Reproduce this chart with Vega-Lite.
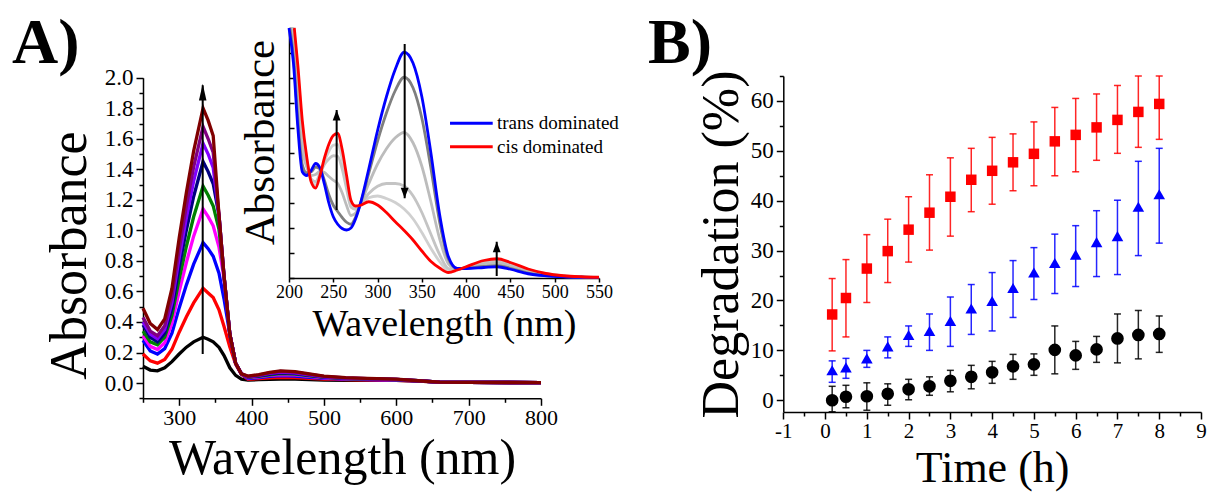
{
  "$schema": "https://vega.github.io/schema/vega-lite/v6.json",
  "width": 1209,
  "height": 493,
  "autosize": "none",
  "padding": 0,
  "background": "white",
  "config": {
    "view": {"stroke": null},
    "font": "Liberation Serif",
    "axis": {
      "grid": false,
      "domainColor": "black",
      "tickColor": "black",
      "labelColor": "black",
      "titleColor": "black",
      "labelFont": "Liberation Serif",
      "titleFont": "Liberation Serif",
      "titleFontWeight": "normal",
      "domainWidth": 1.5,
      "tickWidth": 1.5,
      "labelFlush": false,
      "labelOverlap": false
    }
  },
  "datasets": {
    "spec": [
      {"c":"k","nm":250,"a":0.11},{"c":"k","nm":260,"a":0.085},{"c":"k","nm":270,"a":0.08},{"c":"k","nm":280,"a":0.10},{"c":"k","nm":290,"a":0.14},{"c":"k","nm":300,"a":0.19},{"c":"k","nm":310,"a":0.235},{"c":"k","nm":320,"a":0.27},{"c":"k","nm":333,"a":0.30},{"c":"k","nm":340,"a":0.287},{"c":"k","nm":347,"a":0.27},{"c":"k","nm":355,"a":0.234},{"c":"k","nm":362,"a":0.18},{"c":"k","nm":370,"a":0.10},{"c":"k","nm":378,"a":0.05},{"c":"k","nm":386,"a":0.025},{"c":"k","nm":395,"a":0.020},{"c":"k","nm":410,"a":0.022},{"c":"k","nm":425,"a":0.024},{"c":"k","nm":440,"a":0.026},{"c":"k","nm":460,"a":0.025},{"c":"k","nm":480,"a":0.023},{"c":"k","nm":500,"a":0.020},{"c":"k","nm":530,"a":0.018},{"c":"k","nm":560,"a":0.018},{"c":"k","nm":600,"a":0.017},{"c":"k","nm":630,"a":0.012},{"c":"k","nm":660,"a":0.006},{"c":"k","nm":700,"a":0.004},{"c":"k","nm":800,"a":0.003},
      {"c":"r","nm":250,"a":0.19},{"c":"r","nm":260,"a":0.145},{"c":"r","nm":270,"a":0.13},{"c":"r","nm":280,"a":0.154},{"c":"r","nm":290,"a":0.221},{"c":"r","nm":300,"a":0.333},{"c":"r","nm":310,"a":0.434},{"c":"r","nm":320,"a":0.525},{"c":"r","nm":333,"a":0.62},{"c":"r","nm":340,"a":0.59},{"c":"r","nm":347,"a":0.56},{"c":"r","nm":355,"a":0.48},{"c":"r","nm":362,"a":0.37},{"c":"r","nm":370,"a":0.236},{"c":"r","nm":378,"a":0.124},{"c":"r","nm":386,"a":0.056},{"c":"r","nm":395,"a":0.025},{"c":"r","nm":410,"a":0.029},{"c":"r","nm":425,"a":0.034},{"c":"r","nm":440,"a":0.037},{"c":"r","nm":460,"a":0.036},{"c":"r","nm":480,"a":0.030},{"c":"r","nm":500,"a":0.025},{"c":"r","nm":530,"a":0.022},{"c":"r","nm":560,"a":0.020},{"c":"r","nm":600,"a":0.018},{"c":"r","nm":630,"a":0.013},{"c":"r","nm":660,"a":0.006},{"c":"r","nm":700,"a":0.004},{"c":"r","nm":800,"a":0.003},
      {"c":"b","nm":250,"a":0.28},{"c":"b","nm":260,"a":0.21},{"c":"b","nm":270,"a":0.19},{"c":"b","nm":280,"a":0.225},{"c":"b","nm":290,"a":0.326},{"c":"b","nm":300,"a":0.492},{"c":"b","nm":310,"a":0.643},{"c":"b","nm":320,"a":0.779},{"c":"b","nm":333,"a":0.92},{"c":"b","nm":340,"a":0.88},{"c":"b","nm":347,"a":0.83},{"c":"b","nm":355,"a":0.72},{"c":"b","nm":362,"a":0.55},{"c":"b","nm":370,"a":0.32},{"c":"b","nm":378,"a":0.13},{"c":"b","nm":386,"a":0.06},{"c":"b","nm":395,"a":0.030},{"c":"b","nm":410,"a":0.035},{"c":"b","nm":425,"a":0.043},{"c":"b","nm":440,"a":0.048},{"c":"b","nm":460,"a":0.046},{"c":"b","nm":480,"a":0.038},{"c":"b","nm":500,"a":0.030},{"c":"b","nm":530,"a":0.025},{"c":"b","nm":560,"a":0.023},{"c":"b","nm":600,"a":0.020},{"c":"b","nm":630,"a":0.014},{"c":"b","nm":660,"a":0.006},{"c":"b","nm":700,"a":0.004},{"c":"b","nm":800,"a":0.003},
      {"c":"m","nm":250,"a":0.31},{"c":"m","nm":260,"a":0.24},{"c":"m","nm":270,"a":0.22},{"c":"m","nm":280,"a":0.264},{"c":"m","nm":290,"a":0.391},{"c":"m","nm":300,"a":0.601},{"c":"m","nm":310,"a":0.791},{"c":"m","nm":320,"a":0.962},{"c":"m","nm":333,"a":1.14},{"c":"m","nm":340,"a":1.09},{"c":"m","nm":347,"a":1.03},{"c":"m","nm":355,"a":0.89},{"c":"m","nm":362,"a":0.684},{"c":"m","nm":370,"a":0.32},{"c":"m","nm":378,"a":0.13},{"c":"m","nm":386,"a":0.06},{"c":"m","nm":395,"a":0.034},{"c":"m","nm":410,"a":0.040},{"c":"m","nm":425,"a":0.050},{"c":"m","nm":440,"a":0.056},{"c":"m","nm":460,"a":0.053},{"c":"m","nm":480,"a":0.043},{"c":"m","nm":500,"a":0.034},{"c":"m","nm":530,"a":0.028},{"c":"m","nm":560,"a":0.024},{"c":"m","nm":600,"a":0.021},{"c":"m","nm":630,"a":0.014},{"c":"m","nm":660,"a":0.006},{"c":"m","nm":700,"a":0.004},{"c":"m","nm":800,"a":0.003},
      {"c":"g","nm":250,"a":0.34},{"c":"g","nm":260,"a":0.27},{"c":"g","nm":270,"a":0.25},{"c":"g","nm":280,"a":0.300},{"c":"g","nm":290,"a":0.443},{"c":"g","nm":300,"a":0.681},{"c":"g","nm":310,"a":0.896},{"c":"g","nm":320,"a":1.089},{"c":"g","nm":333,"a":1.29},{"c":"g","nm":340,"a":1.23},{"c":"g","nm":347,"a":1.16},{"c":"g","nm":355,"a":1.006},{"c":"g","nm":362,"a":0.70},{"c":"g","nm":370,"a":0.32},{"c":"g","nm":378,"a":0.13},{"c":"g","nm":386,"a":0.06},{"c":"g","nm":395,"a":0.037},{"c":"g","nm":410,"a":0.044},{"c":"g","nm":425,"a":0.054},{"c":"g","nm":440,"a":0.062},{"c":"g","nm":460,"a":0.058},{"c":"g","nm":480,"a":0.047},{"c":"g","nm":500,"a":0.037},{"c":"g","nm":530,"a":0.029},{"c":"g","nm":560,"a":0.026},{"c":"g","nm":600,"a":0.022},{"c":"g","nm":630,"a":0.015},{"c":"g","nm":660,"a":0.006},{"c":"g","nm":700,"a":0.004},{"c":"g","nm":800,"a":0.003},
      {"c":"n","nm":250,"a":0.38},{"c":"n","nm":260,"a":0.30},{"c":"n","nm":270,"a":0.27},{"c":"n","nm":280,"a":0.327},{"c":"n","nm":290,"a":0.489},{"c":"n","nm":300,"a":0.759},{"c":"n","nm":310,"a":1.003},{"c":"n","nm":320,"a":1.222},{"c":"n","nm":333,"a":1.45},{"c":"n","nm":340,"a":1.385},{"c":"n","nm":347,"a":1.305},{"c":"n","nm":355,"a":1.10},{"c":"n","nm":362,"a":0.70},{"c":"n","nm":370,"a":0.32},{"c":"n","nm":378,"a":0.13},{"c":"n","nm":386,"a":0.06},{"c":"n","nm":395,"a":0.039},{"c":"n","nm":410,"a":0.047},{"c":"n","nm":425,"a":0.059},{"c":"n","nm":440,"a":0.067},{"c":"n","nm":460,"a":0.063},{"c":"n","nm":480,"a":0.051},{"c":"n","nm":500,"a":0.039},{"c":"n","nm":530,"a":0.031},{"c":"n","nm":560,"a":0.027},{"c":"n","nm":600,"a":0.023},{"c":"n","nm":630,"a":0.015},{"c":"n","nm":660,"a":0.006},{"c":"n","nm":700,"a":0.004},{"c":"n","nm":800,"a":0.003},
      {"c":"v","nm":250,"a":0.40},{"c":"v","nm":260,"a":0.32},{"c":"v","nm":270,"a":0.29},{"c":"v","nm":280,"a":0.351},{"c":"v","nm":290,"a":0.528},{"c":"v","nm":300,"a":0.820},{"c":"v","nm":310,"a":1.085},{"c":"v","nm":320,"a":1.323},{"c":"v","nm":333,"a":1.57},{"c":"v","nm":340,"a":1.50},{"c":"v","nm":347,"a":1.41},{"c":"v","nm":355,"a":1.10},{"c":"v","nm":362,"a":0.70},{"c":"v","nm":370,"a":0.32},{"c":"v","nm":378,"a":0.13},{"c":"v","nm":386,"a":0.06},{"c":"v","nm":395,"a":0.041},{"c":"v","nm":410,"a":0.050},{"c":"v","nm":425,"a":0.063},{"c":"v","nm":440,"a":0.072},{"c":"v","nm":460,"a":0.067},{"c":"v","nm":480,"a":0.054},{"c":"v","nm":500,"a":0.041},{"c":"v","nm":530,"a":0.032},{"c":"v","nm":560,"a":0.028},{"c":"v","nm":600,"a":0.024},{"c":"v","nm":630,"a":0.015},{"c":"v","nm":660,"a":0.006},{"c":"v","nm":700,"a":0.004},{"c":"v","nm":800,"a":0.003},
      {"c":"p","nm":250,"a":0.43},{"c":"p","nm":260,"a":0.34},{"c":"p","nm":270,"a":0.31},{"c":"p","nm":280,"a":0.376},{"c":"p","nm":290,"a":0.565},{"c":"p","nm":300,"a":0.877},{"c":"p","nm":310,"a":1.161},{"c":"p","nm":320,"a":1.416},{"c":"p","nm":333,"a":1.68},{"c":"p","nm":340,"a":1.60},{"c":"p","nm":347,"a":1.51},{"c":"p","nm":355,"a":1.10},{"c":"p","nm":362,"a":0.70},{"c":"p","nm":370,"a":0.32},{"c":"p","nm":378,"a":0.13},{"c":"p","nm":386,"a":0.06},{"c":"p","nm":395,"a":0.043},{"c":"p","nm":410,"a":0.052},{"c":"p","nm":425,"a":0.066},{"c":"p","nm":440,"a":0.076},{"c":"p","nm":460,"a":0.071},{"c":"p","nm":480,"a":0.057},{"c":"p","nm":500,"a":0.043},{"c":"p","nm":530,"a":0.034},{"c":"p","nm":560,"a":0.029},{"c":"p","nm":600,"a":0.024},{"c":"p","nm":630,"a":0.015},{"c":"p","nm":660,"a":0.006},{"c":"p","nm":700,"a":0.004},{"c":"p","nm":800,"a":0.003},
      {"c":"w","nm":250,"a":0.49},{"c":"w","nm":260,"a":0.39},{"c":"w","nm":270,"a":0.35},{"c":"w","nm":280,"a":0.42},{"c":"w","nm":290,"a":0.62},{"c":"w","nm":300,"a":0.95},{"c":"w","nm":310,"a":1.25},{"c":"w","nm":320,"a":1.52},{"c":"w","nm":333,"a":1.80},{"c":"w","nm":340,"a":1.72},{"c":"w","nm":347,"a":1.62},{"c":"w","nm":355,"a":1.10},{"c":"w","nm":362,"a":0.70},{"c":"w","nm":370,"a":0.32},{"c":"w","nm":378,"a":0.13},{"c":"w","nm":386,"a":0.06},{"c":"w","nm":395,"a":0.045},{"c":"w","nm":410,"a":0.055},{"c":"w","nm":425,"a":0.070},{"c":"w","nm":440,"a":0.080},{"c":"w","nm":460,"a":0.075},{"c":"w","nm":480,"a":0.060},{"c":"w","nm":500,"a":0.045},{"c":"w","nm":530,"a":0.035},{"c":"w","nm":560,"a":0.030},{"c":"w","nm":600,"a":0.025},{"c":"w","nm":630,"a":0.015},{"c":"w","nm":660,"a":0.006},{"c":"w","nm":700,"a":0.004},{"c":"w","nm":800,"a":0.003}
    ],
    "inset": [
      {"k":"g4","nm":205.5,"v":10.0},{"k":"g4","nm":210,"v":8.2},{"k":"g4","nm":215,"v":6.05},{"k":"g4","nm":220,"v":4.76},{"k":"g4","nm":225,"v":3.90},{"k":"g4","nm":230,"v":3.72},{"k":"g4","nm":235,"v":4.14},{"k":"g4","nm":240,"v":4.67},{"k":"g4","nm":245,"v":5.07},{"k":"g4","nm":250,"v":5.31},{"k":"g4","nm":255,"v":5.34},{"k":"g4","nm":260,"v":4.77},{"k":"g4","nm":265,"v":3.84},{"k":"g4","nm":270,"v":2.97},{"k":"g4","nm":275,"v":2.82},{"k":"g4","nm":280,"v":2.9},{"k":"g4","nm":290,"v":3.21},{"k":"g4","nm":300,"v":3.28},{"k":"g4","nm":310,"v":3.18},{"k":"g4","nm":320,"v":3.02},{"k":"g4","nm":330,"v":2.76},{"k":"g4","nm":340,"v":2.37},{"k":"g4","nm":350,"v":1.82},{"k":"g4","nm":360,"v":1.20},{"k":"g4","nm":370,"v":0.66},{"k":"g4","nm":380,"v":0.30},{"k":"g4","nm":390,"v":0.33},{"k":"g4","nm":400,"v":0.44},{"k":"g4","nm":420,"v":0.67},{"k":"g4","nm":435,"v":0.73},{"k":"g4","nm":450,"v":0.59},{"k":"g4","nm":470,"v":0.34},{"k":"g4","nm":490,"v":0.17},{"k":"g4","nm":510,"v":0.085},{"k":"g4","nm":530,"v":0.048},{"k":"g4","nm":550,"v":0.029},
      {"k":"g3","nm":204.5,"v":10.0},{"k":"g3","nm":210,"v":7.88},{"k":"g3","nm":215,"v":5.79},{"k":"g3","nm":220,"v":4.66},{"k":"g3","nm":225,"v":3.96},{"k":"g3","nm":230,"v":3.85},{"k":"g3","nm":235,"v":4.18},{"k":"g3","nm":240,"v":4.54},{"k":"g3","nm":245,"v":4.76},{"k":"g3","nm":250,"v":4.89},{"k":"g3","nm":255,"v":4.87},{"k":"g3","nm":260,"v":4.36},{"k":"g3","nm":265,"v":3.56},{"k":"g3","nm":270,"v":2.83},{"k":"g3","nm":275,"v":2.75},{"k":"g3","nm":280,"v":2.9},{"k":"g3","nm":290,"v":3.38},{"k":"g3","nm":300,"v":3.67},{"k":"g3","nm":310,"v":3.78},{"k":"g3","nm":320,"v":3.78},{"k":"g3","nm":330,"v":3.68},{"k":"g3","nm":340,"v":3.29},{"k":"g3","nm":350,"v":2.62},{"k":"g3","nm":360,"v":1.77},{"k":"g3","nm":370,"v":0.94},{"k":"g3","nm":380,"v":0.38},{"k":"g3","nm":390,"v":0.34},{"k":"g3","nm":400,"v":0.43},{"k":"g3","nm":420,"v":0.63},{"k":"g3","nm":435,"v":0.69},{"k":"g3","nm":450,"v":0.55},{"k":"g3","nm":470,"v":0.31},{"k":"g3","nm":490,"v":0.16},{"k":"g3","nm":510,"v":0.08},{"k":"g3","nm":530,"v":0.045},{"k":"g3","nm":550,"v":0.028},
      {"k":"g2","nm":203,"v":10.0},{"k":"g2","nm":205,"v":9.41},{"k":"g2","nm":210,"v":7.13},{"k":"g2","nm":215,"v":5.17},{"k":"g2","nm":220,"v":4.44},{"k":"g2","nm":225,"v":4.10},{"k":"g2","nm":230,"v":4.14},{"k":"g2","nm":235,"v":4.27},{"k":"g2","nm":240,"v":4.22},{"k":"g2","nm":245,"v":4.06},{"k":"g2","nm":250,"v":3.91},{"k":"g2","nm":255,"v":3.78},{"k":"g2","nm":260,"v":3.41},{"k":"g2","nm":265,"v":2.90},{"k":"g2","nm":270,"v":2.50},{"k":"g2","nm":275,"v":2.59},{"k":"g2","nm":280,"v":2.9},{"k":"g2","nm":290,"v":3.77},{"k":"g2","nm":300,"v":4.56},{"k":"g2","nm":310,"v":5.17},{"k":"g2","nm":320,"v":5.61},{"k":"g2","nm":330,"v":5.82},{"k":"g2","nm":340,"v":5.41},{"k":"g2","nm":350,"v":4.47},{"k":"g2","nm":360,"v":3.08},{"k":"g2","nm":370,"v":1.58},{"k":"g2","nm":380,"v":0.57},{"k":"g2","nm":390,"v":0.35},{"k":"g2","nm":400,"v":0.41},{"k":"g2","nm":420,"v":0.55},{"k":"g2","nm":435,"v":0.59},{"k":"g2","nm":450,"v":0.47},{"k":"g2","nm":470,"v":0.26},{"k":"g2","nm":490,"v":0.13},{"k":"g2","nm":510,"v":0.068},{"k":"g2","nm":530,"v":0.039},{"k":"g2","nm":550,"v":0.025},
      {"k":"g1","nm":201,"v":10.0},{"k":"g1","nm":205,"v":8.85},{"k":"g1","nm":210,"v":6.35},{"k":"g1","nm":215,"v":4.54},{"k":"g1","nm":220,"v":4.21},{"k":"g1","nm":225,"v":4.24},{"k":"g1","nm":230,"v":4.44},{"k":"g1","nm":235,"v":4.36},{"k":"g1","nm":240,"v":3.90},{"k":"g1","nm":245,"v":3.33},{"k":"g1","nm":250,"v":2.91},{"k":"g1","nm":255,"v":2.66},{"k":"g1","nm":260,"v":2.42},{"k":"g1","nm":265,"v":2.23},{"k":"g1","nm":270,"v":2.15},{"k":"g1","nm":275,"v":2.42},{"k":"g1","nm":280,"v":2.9},{"k":"g1","nm":290,"v":4.17},{"k":"g1","nm":300,"v":5.48},{"k":"g1","nm":310,"v":6.60},{"k":"g1","nm":320,"v":7.50},{"k":"g1","nm":330,"v":8.03},{"k":"g1","nm":340,"v":7.61},{"k":"g1","nm":350,"v":6.39},{"k":"g1","nm":360,"v":4.44},{"k":"g1","nm":370,"v":2.25},{"k":"g1","nm":380,"v":0.76},{"k":"g1","nm":390,"v":0.37},{"k":"g1","nm":400,"v":0.39},{"k":"g1","nm":420,"v":0.46},{"k":"g1","nm":435,"v":0.49},{"k":"g1","nm":450,"v":0.39},{"k":"g1","nm":470,"v":0.20},{"k":"g1","nm":490,"v":0.10},{"k":"g1","nm":510,"v":0.056},{"k":"g1","nm":530,"v":0.033},{"k":"g1","nm":550,"v":0.021},
      {"k":"trans","nm":200,"v":10.0},{"k":"trans","nm":205,"v":8.6},{"k":"trans","nm":210,"v":6.0},{"k":"trans","nm":215,"v":4.25},{"k":"trans","nm":220,"v":4.1},{"k":"trans","nm":225,"v":4.3},{"k":"trans","nm":230,"v":4.58},{"k":"trans","nm":235,"v":4.4},{"k":"trans","nm":240,"v":3.75},{"k":"trans","nm":245,"v":3.0},{"k":"trans","nm":250,"v":2.45},{"k":"trans","nm":255,"v":2.15},{"k":"trans","nm":260,"v":1.98},{"k":"trans","nm":265,"v":1.92},{"k":"trans","nm":270,"v":2.0},{"k":"trans","nm":275,"v":2.35},{"k":"trans","nm":280,"v":2.9},{"k":"trans","nm":290,"v":4.35},{"k":"trans","nm":300,"v":5.9},{"k":"trans","nm":310,"v":7.25},{"k":"trans","nm":320,"v":8.35},{"k":"trans","nm":330,"v":9.03},{"k":"trans","nm":340,"v":8.6},{"k":"trans","nm":350,"v":7.25},{"k":"trans","nm":360,"v":5.05},{"k":"trans","nm":370,"v":2.55},{"k":"trans","nm":380,"v":0.85},{"k":"trans","nm":390,"v":0.38},{"k":"trans","nm":400,"v":0.38},{"k":"trans","nm":420,"v":0.42},{"k":"trans","nm":435,"v":0.45},{"k":"trans","nm":450,"v":0.35},{"k":"trans","nm":470,"v":0.17},{"k":"trans","nm":490,"v":0.09},{"k":"trans","nm":510,"v":0.05},{"k":"trans","nm":530,"v":0.03},{"k":"trans","nm":550,"v":0.02},
      {"k":"cis","nm":206,"v":10.0},{"k":"cis","nm":210,"v":8.5},{"k":"cis","nm":215,"v":6.3},{"k":"cis","nm":220,"v":4.85},{"k":"cis","nm":225,"v":3.85},{"k":"cis","nm":230,"v":3.6},{"k":"cis","nm":235,"v":4.1},{"k":"cis","nm":240,"v":4.8},{"k":"cis","nm":245,"v":5.35},{"k":"cis","nm":250,"v":5.7},{"k":"cis","nm":255,"v":5.78},{"k":"cis","nm":260,"v":5.15},{"k":"cis","nm":265,"v":4.1},{"k":"cis","nm":270,"v":3.1},{"k":"cis","nm":275,"v":2.88},{"k":"cis","nm":280,"v":2.9},{"k":"cis","nm":290,"v":3.05},{"k":"cis","nm":300,"v":2.92},{"k":"cis","nm":310,"v":2.62},{"k":"cis","nm":320,"v":2.25},{"k":"cis","nm":330,"v":1.9},{"k":"cis","nm":340,"v":1.52},{"k":"cis","nm":350,"v":1.08},{"k":"cis","nm":360,"v":0.67},{"k":"cis","nm":370,"v":0.4},{"k":"cis","nm":380,"v":0.22},{"k":"cis","nm":390,"v":0.32},{"k":"cis","nm":400,"v":0.45},{"k":"cis","nm":420,"v":0.7},{"k":"cis","nm":435,"v":0.77},{"k":"cis","nm":450,"v":0.62},{"k":"cis","nm":470,"v":0.36},{"k":"cis","nm":490,"v":0.18},{"k":"cis","nm":510,"v":0.09},{"k":"cis","nm":530,"v":0.05},{"k":"cis","nm":550,"v":0.03}
    ],
    "degr": [
      {"s":"red","t":0.17,"v":17.2,"lo":9.9,"hi":24.4},{"s":"red","t":0.5,"v":20.5,"lo":12.7,"hi":28.2},{"s":"red","t":1,"v":26.4,"lo":19.6,"hi":33.2},{"s":"red","t":1.5,"v":29.9,"lo":23.6,"hi":36.3},{"s":"red","t":2,"v":34.2,"lo":27.7,"hi":40.8},{"s":"red","t":2.5,"v":37.6,"lo":30.1,"hi":45.2},{"s":"red","t":3,"v":40.8,"lo":32.9,"hi":48.6},{"s":"red","t":3.5,"v":44.2,"lo":37.8,"hi":50.5},{"s":"red","t":4,"v":46.0,"lo":39.3,"hi":52.7},{"s":"red","t":4.5,"v":47.7,"lo":42.0,"hi":53.4},{"s":"red","t":5,"v":49.4,"lo":43.0,"hi":55.8},{"s":"red","t":5.5,"v":51.9,"lo":45.0,"hi":58.7},{"s":"red","t":6,"v":53.2,"lo":45.8,"hi":60.5},{"s":"red","t":6.5,"v":54.7,"lo":48.1,"hi":61.4},{"s":"red","t":7,"v":56.2,"lo":49.5,"hi":63.1},{"s":"red","t":7.5,"v":57.8,"lo":50.7,"hi":65.0},{"s":"red","t":8,"v":59.4,"lo":52.3,"hi":65.0},
      {"s":"blue","t":0.17,"v":6.0,"lo":3.6,"hi":7.9},{"s":"blue","t":0.5,"v":6.6,"lo":4.4,"hi":8.4},{"s":"blue","t":1,"v":8.4,"lo":6.6,"hi":10.0},{"s":"blue","t":1.5,"v":10.8,"lo":8.5,"hi":12.7},{"s":"blue","t":2,"v":13.1,"lo":10.8,"hi":14.9},{"s":"blue","t":2.5,"v":13.9,"lo":10.0,"hi":17.3},{"s":"blue","t":3,"v":15.9,"lo":10.8,"hi":20.7},{"s":"blue","t":3.5,"v":18.4,"lo":13.2,"hi":23.2},{"s":"blue","t":4,"v":19.9,"lo":13.9,"hi":25.6},{"s":"blue","t":4.5,"v":22.5,"lo":16.6,"hi":28.0},{"s":"blue","t":5,"v":25.6,"lo":20.2,"hi":30.6},{"s":"blue","t":5.5,"v":27.5,"lo":21.4,"hi":33.3},{"s":"blue","t":6,"v":29.2,"lo":22.8,"hi":35.0},{"s":"blue","t":6.5,"v":31.7,"lo":24.8,"hi":38.0},{"s":"blue","t":7,"v":32.9,"lo":25.2,"hi":40.1},{"s":"blue","t":7.5,"v":38.8,"lo":29.0,"hi":47.9},{"s":"blue","t":8,"v":41.3,"lo":31.5,"hi":50.5},
      {"s":"black","t":0.17,"v":0.0,"lo":-2.3,"hi":2.8},{"s":"black","t":0.5,"v":0.7,"lo":-1.5,"hi":3.0},{"s":"black","t":1,"v":0.8,"lo":-2.0,"hi":3.5},{"s":"black","t":1.5,"v":1.3,"lo":-1.0,"hi":3.3},{"s":"black","t":2,"v":2.2,"lo":0.1,"hi":4.2},{"s":"black","t":2.5,"v":2.8,"lo":1.0,"hi":4.7},{"s":"black","t":3,"v":3.9,"lo":1.7,"hi":6.0},{"s":"black","t":3.5,"v":4.7,"lo":2.3,"hi":7.0},{"s":"black","t":4,"v":5.6,"lo":3.4,"hi":7.8},{"s":"black","t":4.5,"v":6.8,"lo":4.2,"hi":9.2},{"s":"black","t":5,"v":7.2,"lo":5.0,"hi":9.3},{"s":"black","t":5.5,"v":10.1,"lo":5.3,"hi":14.9},{"s":"black","t":6,"v":9.0,"lo":6.2,"hi":11.8},{"s":"black","t":6.5,"v":10.2,"lo":7.6,"hi":12.8},{"s":"black","t":7,"v":12.4,"lo":7.5,"hi":17.3},{"s":"black","t":7.5,"v":13.1,"lo":8.3,"hi":18.0},{"s":"black","t":8,"v":13.3,"lo":9.6,"hi":16.9}
    ]
  },
  "layer": [
    {
      "data": {"values": [{"nm": 250, "a": 0}]},
      "mark": {"type": "point", "opacity": 0},
      "encoding": {
        "x": {"field": "nm", "type": "quantitative",
          "scale": {"domain": [250, 800], "range": [143, 541], "nice": false, "zero": false},
          "axis": {"orient": "bottom", "offset": -94.7, "title": null, "domain": false, "labels": false,
            "values": [250, 350, 450, 550, 650, 750], "tickSize": 4}},
        "y": {"field": "a", "type": "quantitative",
          "scale": {"domain": [-0.1, 2.0], "range": [398.3, 77.7], "nice": false, "zero": false},
          "axis": {"orient": "left", "offset": -143, "title": null, "domain": false, "labels": false,
            "values": [-0.1, 0.1, 0.3, 0.5, 0.7, 0.9, 1.1, 1.3, 1.5, 1.7, 1.9], "tickSize": 4}}
      }
    },
    {
      "data": {"name": "spec"},
      "mark": {"type": "line", "strokeWidth": 3.3},
      "encoding": {
        "x": {"field": "nm", "type": "quantitative",
          "scale": {"domain": [250, 800], "range": [143, 541], "nice": false, "zero": false},
          "axis": {"orient": "bottom", "offset": -94.7, "title": "Wavelength (nm)",
            "values": [300, 400, 500, 600, 700, 800],
            "tickSize": 7, "labelFontSize": 22, "labelPadding": 2, "titleFontSize": 50, "titlePadding": 5}},
        "y": {"field": "a", "type": "quantitative",
          "scale": {"domain": [-0.1, 2.0], "range": [398.3, 77.7], "nice": false, "zero": false},
          "axis": {"orient": "left", "offset": -143, "title": "Absorbance",
            "values": [0, 0.2, 0.4, 0.6, 0.8, 1.0, 1.2, 1.4, 1.6, 1.8, 2.0], "format": ".1f",
            "tickSize": 7, "labelFontSize": 23, "labelPadding": 3, "titleFontSize": 52, "titlePadding": 8, "titleY": 255}},
        "color": {"field": "c", "type": "nominal",
          "scale": {"domain": ["k", "r", "b", "m", "g", "n", "v", "p", "w"],
            "range": ["#000000", "#ff0000", "#0000ff", "#ff00ff", "#008000", "#000080", "#8000ff", "#800080", "#800000"]},
          "legend": null}
      }
    },
    {
      "data": {"values": [{"nm": 332.5, "a0": 0.19, "a1": 1.95}]},
      "mark": {"type": "rule", "strokeWidth": 2, "color": "black"},
      "encoding": {
        "x": {"field": "nm", "type": "quantitative", "axis": null,
          "scale": {"domain": [250, 800], "range": [143, 541], "nice": false, "zero": false}},
        "y": {"field": "a0", "type": "quantitative", "axis": null,
          "scale": {"domain": [-0.1, 2.0], "range": [398.3, 77.7], "nice": false, "zero": false}},
        "y2": {"field": "a1"}
      }
    },
    {
      "data": {"values": [{"nm": 332.5, "a1": 1.96}]},
      "mark": {"type": "point", "shape": "M0,0L0.45,2L-0.45,2Z", "filled": true, "size": 280, "color": "black", "opacity": 1},
      "encoding": {
        "x": {"field": "nm", "type": "quantitative", "axis": null,
          "scale": {"domain": [250, 800], "range": [143, 541], "nice": false, "zero": false}},
        "y": {"field": "a1", "type": "quantitative", "axis": null,
          "scale": {"domain": [-0.1, 2.0], "range": [398.3, 77.7], "nice": false, "zero": false}}
      }
    },
    {
      "data": {"values": [{"nm": 69, "a": 2.222, "txt": "A)"}]},
      "mark": {"type": "text", "align": "left", "baseline": "middle", "fontSize": 64, "fontWeight": "bold", "font": "Liberation Serif", "color": "black"},
      "encoding": {
        "x": {"field": "nm", "type": "quantitative", "axis": null,
          "scale": {"domain": [250, 800], "range": [143, 541], "nice": false, "zero": false}},
        "y": {"field": "a", "type": "quantitative", "axis": null,
          "scale": {"domain": [-0.1, 2.0], "range": [398.3, 77.7], "nice": false, "zero": false}},
        "text": {"field": "txt"}
      }
    },
    {
      "data": {"name": "inset"},
      "mark": {"type": "line", "strokeWidth": 2.8, "interpolate": "monotone"},
      "encoding": {
        "x": {"field": "nm", "type": "quantitative",
          "scale": {"domain": [200, 550], "range": [289, 599], "nice": false, "zero": false},
          "axis": {"orient": "bottom", "offset": -215, "title": "Wavelength (nm)",
            "values": [200, 250, 300, 350, 400, 450, 500, 550],
            "tickSize": 4, "labelFontSize": 18, "labelPadding": 1, "titleFontSize": 38, "titlePadding": 4}},
        "y": {"field": "v", "type": "quantitative",
          "scale": {"domain": [0, 10], "range": [278, 28], "nice": false, "zero": false},
          "axis": {"orient": "left", "offset": -289, "title": "Absorbance",
            "values": [0, 1, 2, 3, 4, 5, 6, 7, 8, 9, 10], "labels": false,
            "tickSize": -5, "titleFontSize": 43, "titlePadding": 6, "titleY": 142}},
        "color": {"field": "k", "type": "nominal",
          "scale": {"domain": ["g4", "g3", "g2", "g1", "trans", "cis"],
            "range": ["#d0d0d0", "#c4c4c4", "#bcbcbc", "#7f7f7f", "#0000ff", "#ff0000"]},
          "legend": null}
      }
    },
    {
      "data": {"values": [
        {"nm": 253.8, "v0": 2.72, "v1": 6.72},
        {"nm": 330.6, "v0": 9.36, "v1": 3.19},
        {"nm": 434.5, "v0": 0.08, "v1": 1.45}
      ]},
      "mark": {"type": "rule", "strokeWidth": 2, "color": "black"},
      "encoding": {
        "x": {"field": "nm", "type": "quantitative", "axis": null,
          "scale": {"domain": [200, 550], "range": [289, 599], "nice": false, "zero": false}},
        "y": {"field": "v0", "type": "quantitative", "axis": null,
          "scale": {"domain": [0, 10], "range": [278, 28], "nice": false, "zero": false}},
        "y2": {"field": "v1"}
      }
    },
    {
      "data": {"values": [
        {"nm": 253.8, "v1": 6.72, "d": "up"},
        {"nm": 330.6, "v1": 3.19, "d": "down"},
        {"nm": 434.5, "v1": 1.45, "d": "up"}
      ]},
      "mark": {"type": "point", "filled": true, "size": 110, "color": "black", "opacity": 1},
      "encoding": {
        "x": {"field": "nm", "type": "quantitative", "axis": null,
          "scale": {"domain": [200, 550], "range": [289, 599], "nice": false, "zero": false}},
        "y": {"field": "v1", "type": "quantitative", "axis": null,
          "scale": {"domain": [0, 10], "range": [278, 28], "nice": false, "zero": false}},
        "shape": {"field": "d", "type": "nominal",
          "scale": {"domain": ["up", "down"], "range": ["M0,0L0.75,2L-0.75,2Z", "M0,0L0.75,-2L-0.75,-2Z"]},
          "legend": null}
      }
    },
    {
      "data": {"values": [
        {"k": "trans", "x1": 381.8, "x2": 430, "v": 6.19},
        {"k": "cis", "x1": 381.8, "x2": 430, "v": 5.25}
      ]},
      "mark": {"type": "rule", "strokeWidth": 3},
      "encoding": {
        "x": {"field": "x1", "type": "quantitative", "axis": null,
          "scale": {"domain": [200, 550], "range": [289, 599], "nice": false, "zero": false}},
        "x2": {"field": "x2"},
        "y": {"field": "v", "type": "quantitative", "axis": null,
          "scale": {"domain": [0, 10], "range": [278, 28], "nice": false, "zero": false}},
        "color": {"field": "k", "type": "nominal",
          "scale": {"domain": ["trans", "cis"], "range": ["#0000ff", "#ff0000"]}, "legend": null}
      }
    },
    {
      "data": {"values": [
        {"nm": 434.8, "v": 6.19, "lbl": "trans dominated"},
        {"nm": 434.8, "v": 5.25, "lbl": "cis dominated"}
      ]},
      "mark": {"type": "text", "align": "left", "baseline": "middle", "fontSize": 19, "font": "Liberation Serif", "color": "black"},
      "encoding": {
        "x": {"field": "nm", "type": "quantitative", "axis": null,
          "scale": {"domain": [200, 550], "range": [289, 599], "nice": false, "zero": false}},
        "y": {"field": "v", "type": "quantitative", "axis": null,
          "scale": {"domain": [0, 10], "range": [278, 28], "nice": false, "zero": false}},
        "text": {"field": "lbl"}
      }
    },
    {
      "data": {"values": [{"t": 0, "v": 0}]},
      "mark": {"type": "point", "opacity": 0},
      "encoding": {
        "x": {"field": "t", "type": "quantitative",
          "scale": {"domain": [-1, 9], "range": [783.3, 1201], "nice": false, "zero": false},
          "axis": {"orient": "bottom", "offset": -81, "title": null, "domain": false, "labels": false,
            "values": [-0.5, 0.5, 1.5, 2.5, 3.5, 4.5, 5.5, 6.5, 7.5, 8.5], "tickSize": 4}},
        "y": {"field": "v", "type": "quantitative",
          "scale": {"domain": [-2.35, 65], "range": [412, 76], "nice": false, "zero": false},
          "axis": {"orient": "left", "offset": -783.3, "title": null, "domain": false, "labels": false,
            "values": [5, 15, 25, 35, 45, 55, 65], "tickSize": 4}}
      }
    },
    {
      "data": {"name": "degr"},
      "mark": {"type": "rule", "strokeWidth": 1.5, "opacity": 0.85},
      "encoding": {
        "x": {"field": "t", "type": "quantitative",
          "scale": {"domain": [-1, 9], "range": [783.3, 1201], "nice": false, "zero": false},
          "axis": {"orient": "bottom", "offset": -81, "title": "Time (h)",
            "values": [-1, 0, 1, 2, 3, 4, 5, 6, 7, 8, 9],
            "labelExpr": "'' + datum.value",
            "tickSize": 7, "labelFontSize": 21, "labelPadding": 1, "titleFontSize": 44, "titlePadding": 5}},
        "y": {"field": "lo", "type": "quantitative",
          "scale": {"domain": [-2.35, 65], "range": [412, 76], "nice": false, "zero": false},
          "axis": {"orient": "left", "offset": -783.3, "title": "Degradation (%)",
            "values": [0, 10, 20, 30, 40, 50, 60],
            "tickSize": 7, "labelFontSize": 23, "labelPadding": 3, "titleFontSize": 52, "titlePadding": 2}},
        "y2": {"field": "hi"},
        "color": {"field": "s", "type": "nominal",
          "scale": {"domain": ["red", "blue", "black"], "range": ["#ff0000", "#0000ff", "#000000"]},
          "legend": null}
      }
    },
    {
      "data": {"name": "degr"},
      "mark": {"type": "tick", "orient": "horizontal", "size": 7, "thickness": 1.5, "opacity": 0.85},
      "encoding": {
        "x": {"field": "t", "type": "quantitative", "axis": null,
          "scale": {"domain": [-1, 9], "range": [783.3, 1201], "nice": false, "zero": false}},
        "y": {"field": "hi", "type": "quantitative", "axis": null,
          "scale": {"domain": [-2.35, 65], "range": [412, 76], "nice": false, "zero": false}},
        "color": {"field": "s", "type": "nominal",
          "scale": {"domain": ["red", "blue", "black"], "range": ["#ff0000", "#0000ff", "#000000"]},
          "legend": null}
      }
    },
    {
      "data": {"name": "degr"},
      "mark": {"type": "tick", "orient": "horizontal", "size": 7, "thickness": 1.5, "opacity": 0.85},
      "encoding": {
        "x": {"field": "t", "type": "quantitative", "axis": null,
          "scale": {"domain": [-1, 9], "range": [783.3, 1201], "nice": false, "zero": false}},
        "y": {"field": "lo", "type": "quantitative", "axis": null,
          "scale": {"domain": [-2.35, 65], "range": [412, 76], "nice": false, "zero": false}},
        "color": {"field": "s", "type": "nominal",
          "scale": {"domain": ["red", "blue", "black"], "range": ["#ff0000", "#0000ff", "#000000"]},
          "legend": null}
      }
    },
    {
      "data": {"name": "degr"},
      "mark": {"type": "point", "filled": true, "opacity": 1},
      "encoding": {
        "x": {"field": "t", "type": "quantitative", "axis": null,
          "scale": {"domain": [-1, 9], "range": [783.3, 1201], "nice": false, "zero": false}},
        "y": {"field": "v", "type": "quantitative", "axis": null,
          "scale": {"domain": [-2.35, 65], "range": [412, 76], "nice": false, "zero": false}},
        "color": {"field": "s", "type": "nominal",
          "scale": {"domain": ["red", "blue", "black"], "range": ["#ff0000", "#0000ff", "#000000"]},
          "legend": null},
        "shape": {"field": "s", "type": "nominal",
          "scale": {"domain": ["red", "blue", "black"], "range": ["square", "triangle-up", "circle"]},
          "legend": null},
        "size": {"field": "s", "type": "ordinal",
          "scale": {"domain": ["red", "blue", "black"], "range": [110, 160, 100]},
          "legend": null}
      }
    },
    {
      "data": {"values": [{"t": -4.24, "v": 71.4, "txt": "B)"}]},
      "mark": {"type": "text", "align": "left", "baseline": "middle", "fontSize": 64, "fontWeight": "bold", "font": "Liberation Serif", "color": "black"},
      "encoding": {
        "x": {"field": "t", "type": "quantitative", "axis": null,
          "scale": {"domain": [-1, 9], "range": [783.3, 1201], "nice": false, "zero": false}},
        "y": {"field": "v", "type": "quantitative", "axis": null,
          "scale": {"domain": [-2.35, 65], "range": [412, 76], "nice": false, "zero": false}},
        "text": {"field": "txt"}
      }
    }
  ],
  "resolve": {
    "scale": {"x": "independent", "y": "independent", "color": "independent", "shape": "independent", "size": "independent"},
    "axis": {"x": "independent", "y": "independent"}
  }
}
